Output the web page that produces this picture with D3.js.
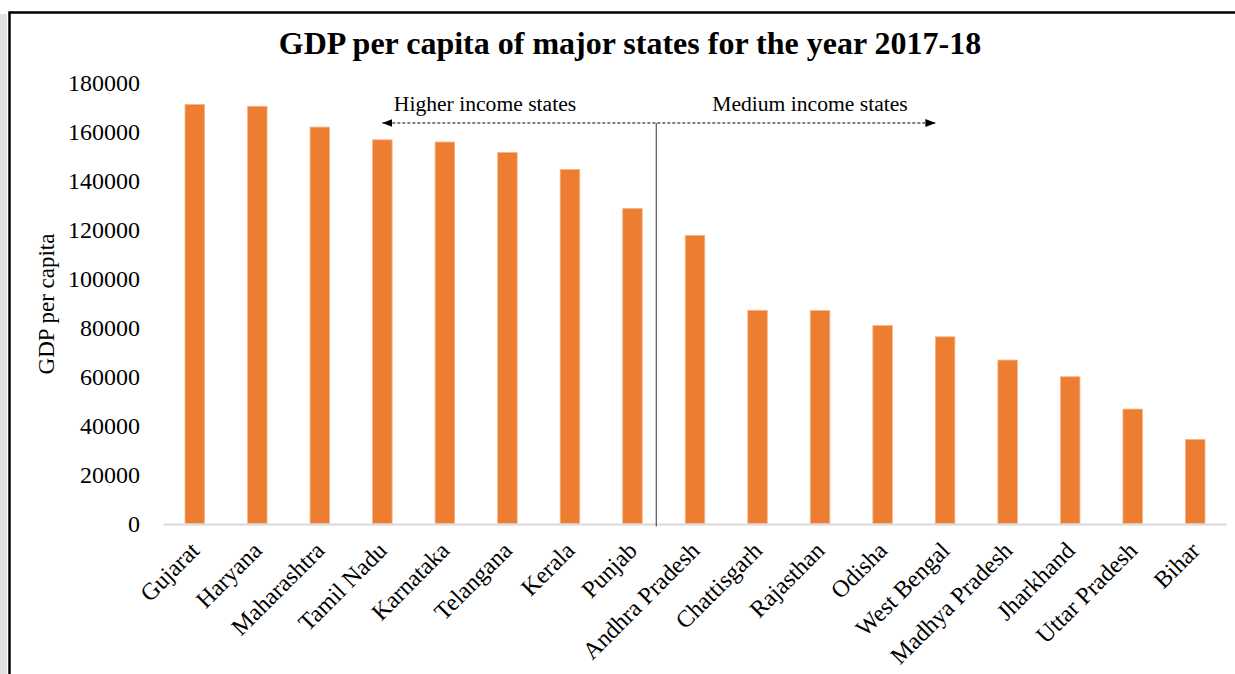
<!DOCTYPE html>
<html>
<head>
<meta charset="utf-8">
<script src="https://cdn.jsdelivr.net/npm/d3@7"></script>
<style>
  html, body { margin: 0; padding: 0; background: #ffffff; }
  svg { display: block; }
  text { font-family: "Times New Roman", "Liberation Serif", serif; fill: #000; }
</style>
</head>
<body>
<svg id="chart" width="1235" height="674"></svg>
<script>
// GDP per capita (Rs) of major states, 2017-18
const states = [
  "Gujarat", "Haryana", "Maharashtra", "Tamil Nadu", "Karnataka", "Telangana",
  "Kerala", "Punjab", "Andhra Pradesh", "Chattisgarh", "Rajasthan", "Odisha",
  "West Bengal", "Madhya Pradesh", "Jharkhand", "Uttar Pradesh", "Bihar"
];
const gdpPerCapita = [
  171000, 170300, 161800, 156600, 155700, 151400,
  144500, 128600, 117600, 87000, 86900, 80800,
  76200, 66700, 59900, 46700, 34300
];
const yTicks = [0, 20000, 40000, 60000, 80000, 100000, 120000, 140000, 160000, 180000];
const higherGroupLabel = "Higher income states";
const mediumGroupLabel = "Medium income states";
const firstMediumState = "Andhra Pradesh";

const svg = d3.select("#chart");
const W = 1235, H = 674;

// outer frame
svg.append("rect").attr("x", 0).attr("y", 14).attr("width", 7).attr("height", H)
  .attr("fill", "#e2e2e2");
svg.append("rect")
  .attr("x", 9.5).attr("y", 12.5).attr("width", W + 20).attr("height", H + 20)
  .attr("fill", "none").attr("stroke", "#000").attr("stroke-width", 2.5);

const x = d3.scaleBand()
  .domain(states)
  .range([163.5, 1226.5])
  .paddingInner(0.688)
  .paddingOuter(0.344);

const y = d3.scaleLinear()
  .domain([0, 180000])
  .range([523.5, 82.5]);

// title
svg.append("text")
  .attr("x", 630).attr("y", 53.5)
  .attr("text-anchor", "middle")
  .style("font-size", "32px").style("font-weight", "bold")
  .text("GDP per capita of major states for the year 2017-18");

// y axis labels
const yAxis = d3.axisLeft(y).tickValues(yTicks).tickSize(0).tickPadding(0)
  .tickFormat(d3.format("d"));
const yG = svg.append("g").attr("transform", "translate(140,0)").call(yAxis);
yG.select(".domain").remove();
yG.selectAll("text")
  .style("font-family", "'Times New Roman', 'Liberation Serif', serif")
  .style("font-size", "24px").attr("fill", "#000").attr("dy", "0.34em");

svg.append("text")
  .attr("transform", "translate(54,304) rotate(-90)")
  .attr("text-anchor", "middle")
  .style("font-size", "23px")
  .text("GDP per capita");

// bars
svg.append("g").selectAll("rect")
  .data(states.map((s, i) => ({ state: s, value: gdpPerCapita[i] })))
  .join("rect")
  .attr("x", d => x(d.state))
  .attr("y", d => y(d.value))
  .attr("width", x.bandwidth())
  .attr("height", d => y(0) - y(d.value))
  .attr("fill", "#ED7D31")
  .attr("stroke", "#F5B487").attr("stroke-width", 0.8);

// category axis
svg.append("line")
  .attr("x1", 163.5).attr("x2", 1226.5)
  .attr("y1", y(0) + 1).attr("y2", y(0) + 1)
  .attr("stroke", "#d9d9d9").attr("stroke-width", 2);

const xAxis = d3.axisBottom(x).tickSize(0).tickPadding(0);
const xG = svg.append("g").attr("transform", `translate(0,${y(0)})`).call(xAxis);
xG.select(".domain").remove();
xG.selectAll("text")
  .style("font-family", "'Times New Roman', 'Liberation Serif', serif")
  .style("font-size", "24px").attr("fill", "#000")
  .attr("text-anchor", "end")
  .attr("dy", null).attr("y", 0)
  .attr("transform", "translate(6,28.5) rotate(-45)");

// group annotation
const sepX = x(firstMediumState) - 29;
const arrowY = 123;
const defs = svg.append("defs");
defs.append("marker").attr("id", "arrowhead")
  .attr("viewBox", "0 0 10 10").attr("refX", 10).attr("refY", 5)
  .attr("markerWidth", 10).attr("markerHeight", 10)
  .attr("markerUnits", "userSpaceOnUse")
  .attr("orient", "auto-start-reverse")
  .append("path").attr("d", "M0,1 L10,5 L0,9 Z").attr("fill", "#000");

svg.append("line")
  .attr("x1", sepX).attr("x2", sepX)
  .attr("y1", arrowY).attr("y2", y(0) + 3)
  .attr("stroke", "#333").attr("stroke-width", 1);

svg.append("line")
  .attr("x1", x("Tamil Nadu") + x.bandwidth() / 2).attr("x2", x("West Bengal"))
  .attr("y1", arrowY).attr("y2", arrowY)
  .attr("stroke", "#000").attr("stroke-width", 1)
  .attr("stroke-dasharray", "3,2")
  .attr("marker-start", "url(#arrowhead)")
  .attr("marker-end", "url(#arrowhead)");

svg.append("text")
  .attr("x", 485).attr("y", 111).attr("text-anchor", "middle")
  .style("font-size", "21.6px").text(higherGroupLabel);
svg.append("text")
  .attr("x", 810).attr("y", 111).attr("text-anchor", "middle")
  .style("font-size", "21.6px").text(mediumGroupLabel);
</script>
</body>
</html>
